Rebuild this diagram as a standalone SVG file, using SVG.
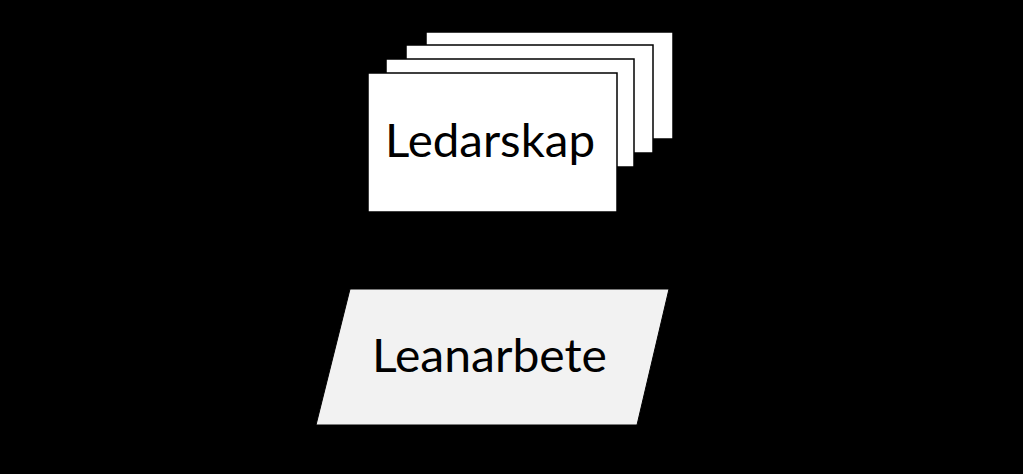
<svg xmlns="http://www.w3.org/2000/svg" width="1023" height="474" viewBox="0 0 1023 474">
<style>
.card{fill:#ffffff;stroke:#000000;stroke-width:1.5}
.lbl{font-family:Lato,"Noto Sans",sans-serif;font-size:46px;fill:#000000}
.conn{stroke:#000000;stroke-width:1.5;fill:none}
</style>
<rect x="0" y="0" width="1023" height="474" fill="#000000"/>
<g id="connectors">
<line class="conn" x1="492" y1="212" x2="492" y2="289"/>
</g>
<g id="ledarskap">
<rect class="card" x="426" y="32" width="247" height="107"/>
<rect class="card" x="406" y="45" width="247" height="108"/>
<rect class="card" x="386" y="59" width="248" height="108"/>
<rect class="card" x="368" y="73" width="249" height="139"/>
<text class="lbl" x="385" y="157" textLength="210" lengthAdjust="spacingAndGlyphs">Ledarskap</text>
</g>
<g id="leanarbete">
<polygon points="350,289 669,289 637,425 316,425" fill="#f2f2f2" stroke="#000000" stroke-width="1"/>
<text class="lbl" x="372" y="372" textLength="235" lengthAdjust="spacingAndGlyphs">Leanarbete</text>
</g>
</svg>
